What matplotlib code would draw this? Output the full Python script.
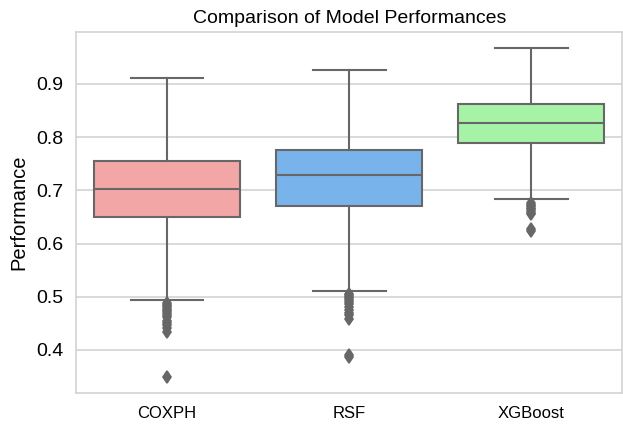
import colorsys
import matplotlib
matplotlib.use("Agg")
import matplotlib.pyplot as plt
import matplotlib.colors as mcolors

models = ["COXPH", "RSF", "XGBoost"]

# box summary per model
medians = [0.703, 0.729, 0.827]
q1 = [0.650, 0.671, 0.789]
q3 = [0.755, 0.775, 0.863]
whisker_low = [0.493, 0.511, 0.683]
whisker_high = [0.912, 0.926, 0.967]

# outlying results below the lower whisker
fliers_coxph = [0.488, 0.485, 0.482, 0.479, 0.476, 0.473, 0.470, 0.466,
                0.461, 0.455, 0.450, 0.446, 0.441, 0.434, 0.349]
fliers_rsf = [0.506, 0.503, 0.500, 0.497, 0.494, 0.490, 0.486, 0.481,
              0.475, 0.470, 0.465, 0.459, 0.391, 0.387]
fliers_xgb = [0.676, 0.673, 0.670, 0.667, 0.664, 0.661, 0.658, 0.655,
              0.628, 0.624]

palette = ["#ff9999", "#66b3ff", "#99ff99"]


def desaturate(c, prop=0.75):
    h, l, s = colorsys.rgb_to_hls(*mcolors.to_rgb(c))
    return colorsys.hls_to_rgb(h, l, s * prop)


stats = []
for i, name in enumerate(models):
    stats.append({
        "label": name,
        "med": medians[i],
        "q1": q1[i],
        "q3": q3[i],
        "whislo": whisker_low[i],
        "whishi": whisker_high[i],
        "fliers": [fliers_coxph, fliers_rsf, fliers_xgb][i],
    })

plt.rcParams["font.family"] = ["Liberation Sans", "DejaVu Sans"]

fig = plt.figure(figsize=(6.23, 4.24), dpi=100)
ax = fig.add_axes([0.122, 0.073, 0.877, 0.852])

gray = "#676767"
bp = ax.bxp(stats, positions=range(len(models)), widths=0.8, patch_artist=True,
            boxprops=dict(edgecolor=gray, linewidth=1.5),
            medianprops=dict(color=gray, linewidth=1.5),
            whiskerprops=dict(color=gray, linewidth=1.5),
            capprops=dict(color=gray, linewidth=1.5),
            flierprops=dict(marker="d", markerfacecolor=gray, markeredgecolor=gray,
                            markersize=6.5, markeredgewidth=1.2, linestyle="none"))
for patch, col in zip(bp["boxes"], palette):
    patch.set_facecolor(desaturate(col))

ax.set_xlim(-0.5, 2.5)
ax.set_ylim(0.319, 0.998)
ax.set_yticks([0.4, 0.5, 0.6, 0.7, 0.8, 0.9])
ax.yaxis.grid(True, color="#d0d0d0", linewidth=1.1)
ax.set_axisbelow(True)
for side in ax.spines.values():
    side.set_color("#d0d0d0")
    side.set_linewidth(1.1)
ax.tick_params(axis="both", length=0, pad=9)
ax.tick_params(axis="y", labelsize=14)
ax.tick_params(axis="x", labelsize=12)
ax.set_ylabel("Performance", fontsize=14.5, labelpad=6)
ax.set_title("Comparison of Model Performances", fontsize=14, pad=6)

fig.savefig("out.png", dpi=100)
